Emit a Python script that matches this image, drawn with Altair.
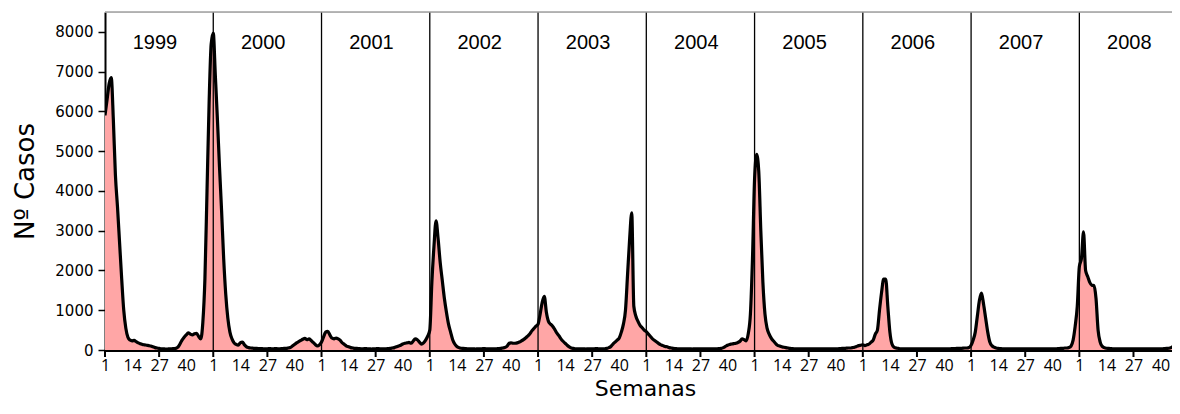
import altair as alt
import pandas as pd

years = [1999, 2000, 2001, 2002, 2003, 2004, 2005, 2006, 2007, 2008]
weeks_per_year = 52
tick_label_weeks = [1, 14, 27, 40]
tick_mark_weeks = [1, 27]
y_ticks = [0, 1000, 2000, 3000, 4000, 5000, 6000, 7000, 8000]

cases_1999 = [5900, 6300, 6700, 6850, 5800, 4400, 3600, 2700, 1800, 1000,
              550, 320, 250, 230, 240, 210, 180, 160, 140, 130,
              120, 110, 100, 80, 60, 50, 40, 30, 30, 25,
              25, 30, 30, 35, 40, 70, 150, 250, 320, 380,
              430, 400, 380, 410, 420, 340, 280, 700, 1800, 4000,
              6200, 7700]
cases_2000 = [7970, 6900, 5800, 4600, 3500, 2300, 1400, 800, 450, 280,
              180, 140, 120, 180, 200, 130, 80, 60, 50, 45,
              40, 40, 35, 35, 30, 30, 30, 35, 30, 30,
              35, 30, 30, 35, 40, 40, 50, 60, 100, 140,
              180, 210, 240, 270, 290, 260, 280, 240, 190, 140,
              100, 130]
cases_2001 = [200, 330, 450, 470, 380, 300, 280, 300, 280, 240,
              180, 140, 100, 80, 60, 50, 40, 40, 35, 30,
              30, 35, 30, 30, 25, 30, 30, 35, 30, 30,
              30, 30, 35, 40, 50, 60, 80, 100, 120, 150,
              170, 180, 190, 170, 220, 280, 260, 200, 150, 180,
              250, 350]
cases_2002 = [500, 1700, 2600, 3250, 2800, 2200, 1750, 1300, 950, 650,
              450, 260, 150, 90, 60, 45, 40, 35, 30, 30,
              30, 30, 25, 30, 30, 30, 35, 30, 30, 30,
              30, 30, 30, 35, 40, 50, 60, 90, 160, 180,
              170, 170, 180, 200, 230, 260, 300, 350, 400, 480,
              540, 600]
cases_2003 = [650, 900, 1200, 1350, 950, 720, 650, 600, 520, 430,
              360, 280, 220, 170, 120, 80, 50, 40, 30, 30,
              30, 30, 30, 25, 30, 30, 30, 30, 35, 30,
              30, 30, 30, 40, 60, 90, 150, 200, 250, 300,
              450, 650, 1000, 1900, 2800, 3450, 1100, 850, 720, 620,
              560, 500]
cases_2004 = [460, 400, 340, 280, 240, 200, 160, 130, 110, 90,
              80, 60, 50, 40, 35, 30, 30, 30, 30, 30,
              30, 30, 25, 30, 30, 30, 30, 30, 30, 30,
              30, 30, 30, 30, 30, 35, 40, 60, 90, 120,
              140, 150, 160, 170, 190, 220, 280, 260, 230, 420,
              900, 2300]
cases_2005 = [4300, 4920, 4500, 3000, 1700, 900, 550, 400, 300, 230,
              170, 120, 100, 80, 70, 60, 50, 40, 35, 30,
              30, 30, 30, 30, 30, 30, 30, 30, 30, 30,
              30, 30, 30, 30, 30, 30, 30, 30, 30, 30,
              30, 35, 40, 40, 45, 50, 50, 60, 70, 90,
              110, 120]
cases_2006 = [130, 110, 130, 150, 200, 250, 400, 500, 1000, 1450,
              1780, 1780, 1100, 450, 150, 70, 50, 40, 30, 30,
              30, 30, 30, 30, 30, 30, 30, 30, 30, 30,
              30, 30, 30, 30, 30, 30, 30, 30, 30, 30,
              30, 30, 30, 35, 35, 40, 40, 40, 45, 50,
              50, 60]
cases_2007 = [120, 250, 450, 850, 1250, 1430, 1150, 800, 450, 200,
              110, 70, 50, 40, 35, 30, 30, 30, 30, 30,
              30, 30, 30, 30, 30, 30, 30, 30, 30, 30,
              30, 30, 30, 30, 30, 30, 30, 30, 30, 30,
              30, 30, 35, 40, 40, 50, 50, 60, 100, 250,
              600, 1100]
cases_2008 = [2100, 2300, 2970, 2000, 1850, 1700, 1630, 1620, 1300, 500,
              200, 90, 60, 45, 40, 35, 30, 30, 30, 30,
              30, 30, 30, 30, 30, 30, 30, 30, 30, 30,
              30, 30, 30, 30, 30, 30, 30, 30, 30, 30,
              30, 35, 40, 45, 60, 90, 120, 250, 700, 1300,
              2200, 3000]

series = [cases_1999, cases_2000, cases_2001, cases_2002, cases_2003,
          cases_2004, cases_2005, cases_2006, cases_2007, cases_2008]

rows = []
for i, (yr, vals) in enumerate(zip(years, series)):
    for w, v in enumerate(vals, start=1):
        rows.append({"t": i * weeks_per_year + (w - 1), "year": yr, "week": w, "cases": v})
df = pd.DataFrame(rows)

sep_df = pd.DataFrame({"t": [i * weeks_per_year for i in range(1, len(years))]})
year_df = pd.DataFrame({"t": [i * weeks_per_year + 24 for i in range(len(years))],
                        "label": [str(y) for y in years]})
tick_df = pd.DataFrame({"t": [i * weeks_per_year + w - 1 for i in range(len(years)) for w in tick_mark_weeks]})
label_vals = [i * weeks_per_year + w - 1 for i in range(len(years)) for w in tick_label_weeks]

W, H = 1067, 338
XMAX = 512.5
x_scale = alt.Scale(domain=[0, XMAX], nice=False, zero=False)
y_scale = alt.Scale(domain=[0, 8500], nice=False)

x_axis = alt.Axis(values=label_vals, labelExpr="(datum.value % 52) + 1",
                  ticks=False, tickSize=0, grid=False,
                  domainColor="black", domainWidth=3,
                  labelFont="Open Sans", labelFontSize=16,
                  labelColor="black", labelBaseline="alphabetic",
                  labelPadding=20, labelOverlap=False, labelFlush=False)
y_axis = alt.Axis(values=y_ticks, format="d", grid=False, domainColor="black", domainWidth=2,
                  tickColor="black", tickWidth=1.5, tickSize=7,
                  labelFont="DejaVu Sans", labelFontSize=15, labelColor="black",
                  labelPadding=5)

x_enc = alt.X("t:Q", scale=x_scale, title=None, axis=x_axis)
y_enc = alt.Y("cases:Q", scale=y_scale, title=None, axis=y_axis)

area = alt.Chart(df).mark_area(color="#FFA6A6", interpolate="monotone", clip=True).encode(
    x=x_enc, y=y_enc)

line = alt.Chart(df).mark_line(color="black", strokeWidth=3.2, interpolate="monotone", clip=True).encode(
    x=x_enc, y=y_enc)

seps = alt.Chart(sep_df).mark_rule(color="black", strokeWidth=1.3).encode(
    x=x_enc, y=alt.value(0), y2=alt.value(H))

top_border = alt.Chart(pd.DataFrame({"a": [0]})).mark_rule(color="#a0a0a0", strokeWidth=1.5).encode(
    x=alt.value(0), x2=alt.value(W), y=alt.value(0))

xticks = alt.Chart(tick_df).mark_rule(color="black", strokeWidth=2).encode(
    x=x_enc, y=alt.value(H), y2=alt.value(H + 7))

year_text = alt.Chart(year_df).mark_text(font="Liberation Sans", fontSize=20, color="black",
                                          baseline="alphabetic", align="center").encode(
    x=x_enc, y=alt.value(37.3), text="label:N")

ytitle = alt.Chart(pd.DataFrame({"label": ["Nº Casos"]})).mark_text(
    font="DejaVu Sans", fontSize=26, color="black", angle=270,
    baseline="alphabetic", align="center").encode(
    x=alt.value(-71.5), y=alt.value(169.5), text="label:N")

xtitle = alt.Chart(pd.DataFrame({"label": ["Semanas"]})).mark_text(
    font="DejaVu Sans", fontSize=22, color="black",
    baseline="alphabetic", align="center").encode(
    x=alt.value(540.5), y=alt.value(383.5), text="label:N")

chart = alt.layer(area, line, seps, top_border, xticks, year_text, ytitle, xtitle).properties(
    width=W, height=H,
    autosize=alt.AutoSizeParams(type="none"),
    padding={"left": 97, "top": 4, "right": 0, "bottom": 51},
).configure_view(stroke=None).configure(background="white")

chart.save("out.html", embed_options={"renderer": "svg", "actions": False})
